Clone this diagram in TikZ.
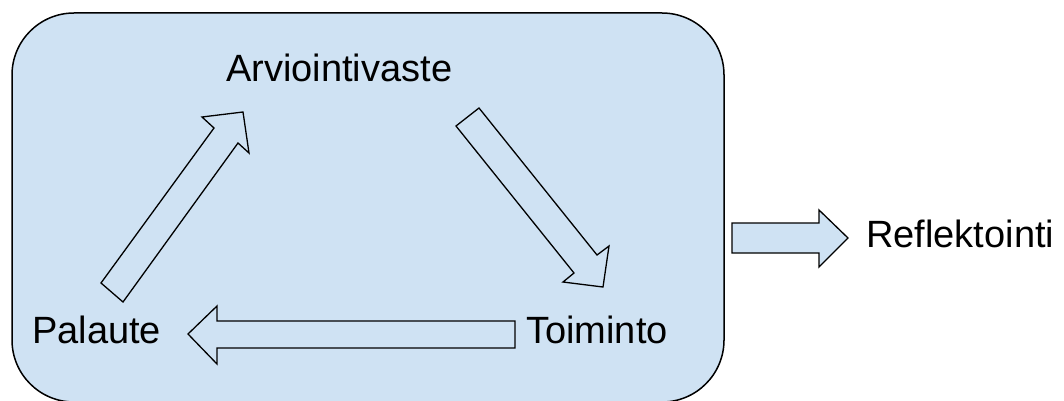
\documentclass[tikz,border=0pt]{standalone}
\usepackage{fontspec}
\setmainfont{Liberation Sans}
\definecolor{boxblue}{HTML}{CFE2F3}
\begin{document}
\begin{tikzpicture}[x=1pt,y=-1pt,
  lbl/.style={inner sep=0pt,font=\fontsize{38}{42}\selectfont,anchor=base west},
  blockarrow/.style={draw=black,line width=1.3pt,fill=boxblue,line join=miter}]
\path[use as bounding box] (0,0) rectangle (1064,401);
\begin{scope}
\clip (0,0) rectangle (1064,401);
\draw[line width=1.5pt,fill=boxblue,rounded corners=62pt] (12,13) rectangle (724,402);
\end{scope}
\node[lbl] (arv) at (226,82) {Arviointivaste};
\node[lbl] (pal) at (32,343) {Palaute};
\node[lbl] (toi) at (526,343) {Toiminto};
\node[lbl] (ref) at (866,247) {Reflektointi};
% Palaute -> Arviointivaste
\draw[blockarrow] (101,283) -- (214,128) -- (202,117) -- (243,112) -- (249,153) -- (238,143) -- (123,302) -- cycle;
% Arviointivaste -> Toiminto
\draw[blockarrow] (479,108) -- (597,255) -- (609,246) -- (603,287) -- (563,282) -- (574,273) -- (456,126) -- cycle;
% Toiminto -> Palaute
\draw[blockarrow] (515,321) -- (217,321) -- (217,306) -- (188,334) -- (217,364) -- (217,348) -- (515,348) -- cycle;
% box -> Reflektointi
\draw[blockarrow] (732,223) -- (819,223) -- (819,210) -- (848,238) -- (819,267) -- (819,253) -- (732,253) -- cycle;
\end{tikzpicture}
\end{document}
